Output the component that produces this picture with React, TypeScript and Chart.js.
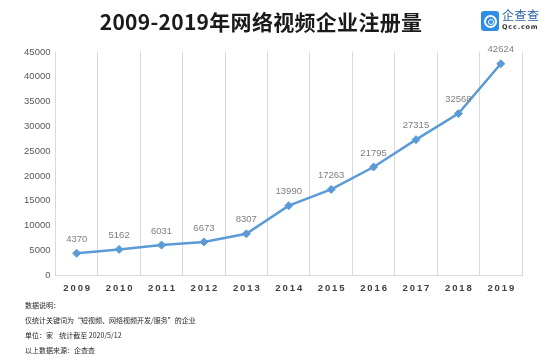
import React, { useEffect, useRef } from "react";
import { Chart, registerables } from "chart.js";

Chart.register(...registerables);

const years = ["2009", "2010", "2011", "2012", "2013", "2014", "2015", "2016", "2017", "2018", "2019"];
const registrations = [4370, 5162, 6031, 6673, 8307, 13990, 17263, 21795, 27315, 32568, 42624];
const yTicks = [0, 5000, 10000, 15000, 20000, 25000, 30000, 35000, 40000, 45000];
const title = "2009-2019年网络视频企业注册量";
const notes = [
  "数据说明：",
  "仅统计关键词为“短视频、网络视频开发/服务”的企业",
  "单位：家    统计截至 2020/5/12",
  "以上数据来源：企查查",
];

const spaced = (s: string) => s.split("").join("\u2009");

const labelPlugin = {
  id: "pointLabels",
  afterDatasetsDraw(chart: any) {
    const ctx = chart.ctx;
    const meta = chart.getDatasetMeta(0);
    ctx.save();
    ctx.font = "9.5px 'Liberation Sans', Arial, sans-serif";
    ctx.fillStyle = "#7f7f7f";
    ctx.textAlign = "center";
    ctx.textBaseline = "middle";
    meta.data.forEach((pt: any, i: number) => {
      ctx.fillText(String(registrations[i]), pt.x, pt.y - 14);
    });
    ctx.restore();
  },
};

export default function App() {
  const ref = useRef<HTMLCanvasElement>(null);
  useEffect(() => {
    if (!ref.current) return;
    const chart = new Chart(ref.current, {
      type: "line",
      data: {
        labels: years.map(spaced),
        datasets: [
          {
            data: registrations,
            borderColor: "#5B9BD5",
            backgroundColor: "#5B9BD5",
            borderWidth: 2.5,
            pointStyle: "rectRot",
            pointRadius: 4,
            pointBorderWidth: 1,
            tension: 0,
          },
        ],
      },
      options: {
        animation: false,
        responsive: false,
        devicePixelRatio: 1,
        layout: { padding: { left: 10, top: 52, right: 31, bottom: 54 } },
        plugins: { legend: { display: false }, tooltip: { enabled: false }, title: { display: false } },
        scales: {
          x: {
            offset: true,
            grid: { display: true, offset: true, color: "#d9d9d9", lineWidth: 1, drawTicks: false },
            border: { display: true, color: "#d9d9d9", width: 1 },
            ticks: {
              padding: 8,
              color: "#404040",
              font: { size: 9.5, weight: "bold", family: "'Liberation Sans', Arial, sans-serif" },
              maxRotation: 0,
            },
            afterFit: (s: any) => {
              s.height = 30;
            },
          },
          y: {
            min: 0,
            max: 45000,
            afterBuildTicks: (s: any) => {
              s.ticks = yTicks.map((v) => ({ value: v }));
            },
            grid: { display: false, drawTicks: false },
            border: { display: false },
            ticks: {
              padding: 5,
              color: "#595959",
              font: { size: 9.5, family: "'Liberation Sans', Arial, sans-serif" },
              callback: (v: any) => String(v),
            },
            afterFit: (s: any) => {
              s.width = 45.5;
            },
          },
        },
      },
      plugins: [labelPlugin],
    });
    return () => chart.destroy();
  }, []);

  return (
    <div style={{ position: "fixed", left: 0, top: 0, width: 553, height: 359, background: "#fff", overflow: "hidden" }}>
      <canvas ref={ref} width={553} height={359} style={{ position: "absolute", left: 0, top: 0, width: 553, height: 359 }} />
      <div
        style={{
          position: "absolute",
          left: 0,
          width: 522,
          top: 7,
          textAlign: "center",
          fontFamily: "'Noto Sans CJK SC', sans-serif",
          fontWeight: 700,
          fontSize: 21,
          lineHeight: "28px",
          color: "#1a1a1a",
          letterSpacing: 0.3,
        }}
      >
        {title}
      </div>
      <div
        style={{
          position: "absolute",
          left: 481,
          top: 11,
          width: 18,
          height: 20,
          borderRadius: 3,
          background: "#2d8ee8",
        }}
      >
        <div
          style={{
            position: "absolute",
            left: 3,
            top: 4,
            width: 9,
            height: 9,
            border: "2px solid #fff",
            borderRadius: "50%",
          }}
        />
        <div
          style={{
            position: "absolute",
            left: 6.5,
            top: 7.5,
            width: 4,
            height: 4,
            border: "1.5px solid #fff",
            borderRadius: "50%",
          }}
        />
      </div>
      <div
        style={{
          position: "absolute",
          left: 502,
          top: 7,
          fontFamily: "'Noto Sans CJK SC', sans-serif",
          fontSize: 12,
          lineHeight: "16px",
          color: "#2a5fa8",
          letterSpacing: 0.5,
        }}
      >
        企查查
      </div>
      <div
        style={{
          position: "absolute",
          left: 502,
          top: 23,
          fontFamily: "'DejaVu Sans', sans-serif",
          fontWeight: 700,
          fontSize: 6.5,
          lineHeight: "9px",
          color: "#333",
          letterSpacing: 0.8,
        }}
      >
        Qcc.com
      </div>
      {notes.map((t, i) => (
        <div
          key={i}
          style={{
            position: "absolute",
            left: 25,
            top: 300 + i * 15,
            fontFamily: "'Noto Sans CJK SC', sans-serif",
            fontSize: 7,
            lineHeight: "10px",
            color: "#262626",
            whiteSpace: "pre",
          }}
        >
          {t}
        </div>
      ))}
    </div>
  );
}
